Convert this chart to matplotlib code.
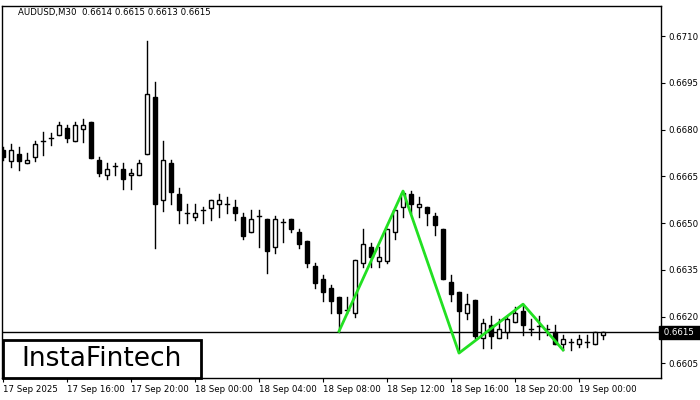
import numpy as np
import matplotlib
matplotlib.use("Agg")
import matplotlib.pyplot as plt
from matplotlib.patches import Rectangle

# AUDUSD M30 candles
opens = [0.66734, 0.66699, 0.66722, 0.66693, 0.66712, 0.66763, 0.66773, 0.66783, 0.66805, 0.66763,
         0.66802, 0.66824, 0.66702, 0.66654, 0.66683, 0.66674, 0.66654, 0.66654, 0.66722, 0.66905,
         0.66574, 0.66693, 0.66593, 0.66532, 0.66520, 0.66542, 0.66548, 0.66561, 0.66561, 0.66551,
         0.66520, 0.66471, 0.66523, 0.66513, 0.66423, 0.66503, 0.66513, 0.66471, 0.66442, 0.66362,
         0.66320, 0.66291, 0.66263, 0.66221, 0.66211, 0.66372, 0.66423, 0.66378, 0.66378, 0.66471,
         0.66551, 0.66593, 0.66551, 0.66551, 0.66523, 0.66481, 0.66311, 0.66279, 0.66211, 0.66253,
         0.66131, 0.66173, 0.66131, 0.66150, 0.66182, 0.66218, 0.66160, 0.66170, 0.66160, 0.66150,
         0.66112, 0.66118, 0.66112, 0.66118, 0.66112, 0.66141]
highs = [0.66744, 0.66754, 0.66744, 0.66725, 0.66763, 0.66792, 0.66789, 0.66824, 0.66815, 0.66824,
         0.66834, 0.66824, 0.66712, 0.66693, 0.66693, 0.66693, 0.66674, 0.66702, 0.67084, 0.66953,
         0.66763, 0.66702, 0.66613, 0.66561, 0.66561, 0.66551, 0.66574, 0.66593, 0.66584, 0.66574,
         0.66532, 0.66542, 0.66542, 0.66513, 0.66523, 0.66513, 0.66513, 0.66481, 0.66442, 0.66372,
         0.66333, 0.66301, 0.66263, 0.66263, 0.66381, 0.66481, 0.66436, 0.66423, 0.66481, 0.66542,
         0.66603, 0.66603, 0.66584, 0.66551, 0.66532, 0.66481, 0.66333, 0.66279, 0.66272, 0.66253,
         0.66192, 0.66202, 0.66192, 0.66202, 0.66231, 0.66240, 0.66192, 0.66202, 0.66173, 0.66173,
         0.66141, 0.66128, 0.66141, 0.66141, 0.66150, 0.66150]
lows = [0.66702, 0.66680, 0.66670, 0.66693, 0.66699, 0.66718, 0.66751, 0.66783, 0.66760, 0.66763,
        0.66760, 0.66709, 0.66651, 0.66641, 0.66654, 0.66609, 0.66609, 0.66654, 0.66722, 0.66420,
        0.66539, 0.66561, 0.66500, 0.66500, 0.66510, 0.66500, 0.66510, 0.66520, 0.66532, 0.66510,
        0.66449, 0.66471, 0.66423, 0.66340, 0.66404, 0.66439, 0.66471, 0.66420, 0.66359, 0.66291,
        0.66250, 0.66211, 0.66150, 0.66211, 0.66198, 0.66359, 0.66359, 0.66359, 0.66372, 0.66449,
        0.66520, 0.66532, 0.66520, 0.66494, 0.66462, 0.66320, 0.66250, 0.66086, 0.66192, 0.66131,
        0.66099, 0.66099, 0.66131, 0.66131, 0.66182, 0.66141, 0.66141, 0.66128, 0.66141, 0.66112,
        0.66093, 0.66093, 0.66102, 0.66102, 0.66112, 0.66128]
closes = [0.66712, 0.66734, 0.66699, 0.66702, 0.66754, 0.66763, 0.66773, 0.66815, 0.66773, 0.66815,
          0.66815, 0.66709, 0.66661, 0.66674, 0.66683, 0.66641, 0.66661, 0.66693, 0.66914, 0.66561,
          0.66702, 0.66600, 0.66542, 0.66532, 0.66532, 0.66542, 0.66574, 0.66574, 0.66561, 0.66532,
          0.66458, 0.66513, 0.66523, 0.66410, 0.66513, 0.66503, 0.66481, 0.66433, 0.66372, 0.66307,
          0.66279, 0.66250, 0.66211, 0.66221, 0.66381, 0.66433, 0.66391, 0.66391, 0.66481, 0.66542,
          0.66596, 0.66561, 0.66561, 0.66532, 0.66494, 0.66320, 0.66272, 0.66218, 0.66240, 0.66138,
          0.66179, 0.66138, 0.66160, 0.66192, 0.66211, 0.66173, 0.66160, 0.66170, 0.66160, 0.66112,
          0.66128, 0.66118, 0.66128, 0.66118, 0.66150, 0.66150]

# pattern line (candle index, price)
pat_idx = [42, 50, 57, 65, 70]
pat_price = [0.66153, 0.66603, 0.66083, 0.66240, 0.66093]

last_price = 0.6615
yticks = [0.6605, 0.6620, 0.6635, 0.6650, 0.6665, 0.6680, 0.6695, 0.6710]
xlabels = ["17 Sep 2025", "17 Sep 16:00", "17 Sep 20:00", "18 Sep 00:00", "18 Sep 04:00",
           "18 Sep 08:00", "18 Sep 12:00", "18 Sep 16:00", "18 Sep 20:00", "19 Sep 00:00"]
xlabel_idx = [0, 8, 16, 24, 32, 40, 48, 56, 64, 72]

fs = 6.2
fig = plt.figure(figsize=(7, 4), dpi=100)
ax = fig.add_axes([2 / 700, 22 / 400, 659 / 700, 372 / 400])

w = 0.6
for i in range(len(opens)):
    o, h, l, c = opens[i], highs[i], lows[i], closes[i]
    ax.plot([i, i], [l, h], color="black", lw=1, zorder=2)
    if abs(c - o) < 0.00002:
        ax.plot([i - w / 2, i + w / 2], [o, o], color="black", lw=1, zorder=3)
    else:
        fc = "white" if c > o else "black"
        ax.add_patch(Rectangle((i - w / 2, min(o, c)), w, abs(c - o),
                               facecolor=fc, edgecolor="black", lw=1, zorder=3))

ax.axhline(last_price, color="black", lw=1, zorder=1)
ax.plot(pat_idx, pat_price, color="#22e022", lw=2, zorder=4)

ax.set_xlim(-0.125, 82.25)
ax.set_ylim(0.66003, 0.67197)
ax.yaxis.tick_right()
ax.set_yticks(yticks)
ax.set_yticklabels(["%.4f" % v for v in yticks], fontsize=fs)
ax.set_xticks(xlabel_idx)
ax.set_xticklabels(xlabels, fontsize=fs, ha="left")
ax.tick_params(length=3, width=0.8, pad=2)
for s in ax.spines.values():
    s.set_linewidth(1)

ax.text(1.0, last_price, " 0.6615  ", transform=ax.get_yaxis_transform(), fontsize=fs,
        color="white", va="center", ha="left",
        bbox=dict(facecolor="black", edgecolor="black", boxstyle="square,pad=0.25"))

fig.text(18 / 700, 1 - 12 / 400, "AUDUSD,M30  0.6614 0.6615 0.6613 0.6615", fontsize=fs, va="center")
fig.patches.append(Rectangle((3 / 700, 22 / 400), 198 / 700, 38 / 400, transform=fig.transFigure,
                             facecolor="white", edgecolor="black", lw=2, zorder=5))
fig.text(102 / 700, 1 - 359 / 400, "InstaFintech", fontsize=19, fontweight="medium",
         ha="center", va="center", zorder=6)

fig.savefig("out.png", dpi=100)
